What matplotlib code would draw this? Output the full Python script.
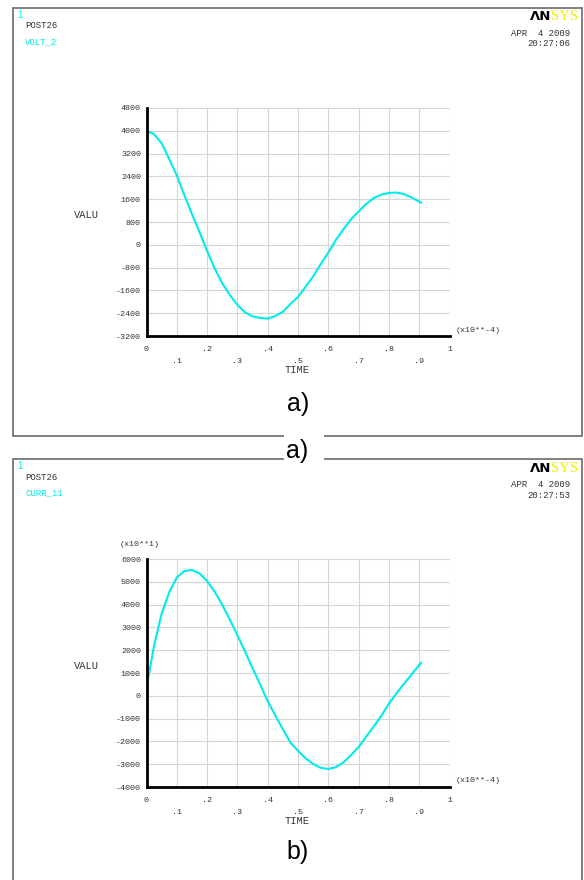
import matplotlib
matplotlib.use("Agg")
import matplotlib.pyplot as plt
from matplotlib.patches import Rectangle

W, H = 584, 880

# time in units of 1e-4 s
time_a = [0.0, 0.025, 0.05, 0.075, 0.1, 0.125, 0.15, 0.175, 0.2, 0.225, 0.25, 0.275,
          0.3, 0.325, 0.35, 0.375, 0.4, 0.425, 0.45, 0.475, 0.5, 0.525, 0.55, 0.575,
          0.6, 0.625, 0.65, 0.675, 0.7, 0.725, 0.75, 0.775, 0.8, 0.825, 0.85, 0.875, 0.906]
volt_2 = [4000, 3880, 3565, 3010, 2430, 1740, 1080, 450, -215, -830, -1350, -1760,
          -2110, -2370, -2510, -2565, -2590, -2500, -2350, -2080, -1830, -1476, -1110, -680,
          -275, 170, 540, 900, 1170, 1430, 1640, 1760, 1820, 1830, 1780, 1660, 1480]

time_b = [0.0, 0.025, 0.05, 0.075, 0.1, 0.125, 0.15, 0.175, 0.2, 0.225, 0.25, 0.275,
          0.3, 0.325, 0.35, 0.375, 0.4, 0.425, 0.45, 0.475, 0.5, 0.525, 0.55, 0.575,
          0.6, 0.625, 0.65, 0.675, 0.7, 0.725, 0.75, 0.775, 0.8, 0.825, 0.85, 0.875, 0.906]
curr_11 = [350, 2200, 3600, 4540, 5190, 5470, 5520, 5370, 5030, 4570, 3990, 3340,
           2660, 1950, 1210, 500, -240, -860, -1460, -2050, -2410, -2740, -2990, -3160,
           -3210, -3130, -2920, -2600, -2250, -1790, -1350, -880, -350, 110, 530, 940, 1450]

yticks_a = [-3200, -2400, -1600, -800, 0, 800, 1600, 2400, 3200, 4000, 4800]
yticks_b = [-4000, -3000, -2000, -1000, 0, 1000, 2000, 3000, 4000, 5000, 6000]
xmajor = [0, 0.2, 0.4, 0.6, 0.8, 1.0]
xmajor_lbl = ['0', '.2', '.4', '.6', '.8', '1']
xminor = [0.1, 0.3, 0.5, 0.7, 0.9]
xminor_lbl = ['.1', '.3', '.5', '.7', '.9']

MONO = 'Liberation Mono'
CYAN = '#00ecec'


def fx(px):
    return px / W


def fy(py):
    return 1 - py / H


fig = plt.figure(figsize=(W / 100, H / 100), dpi=100)


def panel(top, bottom, t, y, yticks, name, clock, label, label_y, ymult=None):
    # frame
    fig.patches.append(Rectangle((fx(13), fy(bottom)), fx(582) - fx(13), fy(top) - fy(bottom),
                                 transform=fig.transFigure, fill=False,
                                 edgecolor='#6a6a6a', lw=1.2, zorder=0))
    fig.text(fx(17), fy(top + 7), '1', color=CYAN, fontsize=7, family='Liberation Sans', va='center')
    fig.text(fx(25), fy(top + 18), 'POST26', color='#333333', fontsize=6.5, family=MONO, va='center')
    fig.text(fx(25), fy(top + 34), name, color=CYAN, fontsize=6.5, family=MONO, va='center')
    fig.text(fx(551), fy(top + 9), '\u039bN', color='black', fontsize=9.5, weight='bold',
             family='DejaVu Sans', ha='right', va='center')
    fig.text(fx(551), fy(top + 9), 'SYS', color='#f0f000', fontsize=10.5,
             family='Liberation Serif', ha='left', va='center')
    fig.text(fx(570), fy(top + 25), 'APR  4 2009', color='#333333', fontsize=6.5, family=MONO,
             ha='right', va='center')
    fig.text(fx(570), fy(top + 36), clock, color='#333333', fontsize=6.5, family=MONO,
             ha='right', va='center')

    ax_top, ax_bot = top + 100, top + 328
    ax = fig.add_axes([fx(146.5), fy(ax_bot), fx(449.5) - fx(146.5), fy(ax_top) - fy(ax_bot)])
    ax.plot(t, y, color=CYAN, lw=1.5, zorder=3)
    ax.set_xlim(0, 1)
    ax.set_ylim(yticks[0], yticks[-1])
    ax.set_yticks(yticks)
    ax.set_yticklabels([str(v) for v in yticks], family=MONO, fontsize=6, color='#333333')
    ax.set_xticks(xmajor)
    ax.set_xticklabels(xmajor_lbl, family=MONO, fontsize=6, color='#333333')
    ax.set_xticks(xminor, minor=True)
    ax.set_xticklabels(xminor_lbl, minor=True, family=MONO, fontsize=6, color='#333333')
    ax.tick_params(axis='both', which='both', length=0)
    ax.tick_params(axis='y', pad=4)
    ax.tick_params(axis='x', which='major', pad=7)
    ax.tick_params(axis='x', which='minor', pad=16)
    ax.grid(True, which='both', color='#d6d6d6', lw=0.8)
    for s in ['top', 'right']:
        ax.spines[s].set_visible(False)
    for s in ['left', 'bottom']:
        ax.spines[s].set_linewidth(2)
        ax.spines[s].set_color('black')
        ax.spines[s].set_zorder(4)

    fig.text(fx(74), fy(top + 207), 'VALU', color='#333333', fontsize=7.5, family=MONO, va='center')
    fig.text(fx(297), fy(ax_bot + 34), 'TIME', color='#333333', fontsize=7.5, family=MONO,
             ha='center', va='center')
    fig.text(fx(456), fy(ax_bot - 6), '(x10**-4)', color='#333333', fontsize=6, family=MONO,
             va='center')
    if ymult:
        fig.text(fx(120), fy(ax_top - 15), ymult, color='#333333', fontsize=6, family=MONO,
                 va='center')
    fig.text(fx(298), fy(label_y), label, color='black', fontsize=18, family='Liberation Sans',
             ha='center', va='center')
    return ax


panel(8, 436, time_a, volt_2, yticks_a, 'VOLT_2', '20:27:06', 'a)', 404)
panel(459, 900, time_b, curr_11, yticks_b, 'CURR_11', '20:27:53', 'b)', 852, ymult='(x10**1)')

# caption sitting on the gap between the two frames
fig.patches.append(Rectangle((fx(284), fy(465)), fx(324) - fx(284), fy(433) - fy(465),
                             transform=fig.transFigure, facecolor='white', edgecolor='none', zorder=1))
fig.text(fx(297), fy(451), 'a)', color='black', fontsize=18, family='Liberation Sans',
         ha='center', va='center', zorder=2)

fig.savefig('out.png', dpi=100)
